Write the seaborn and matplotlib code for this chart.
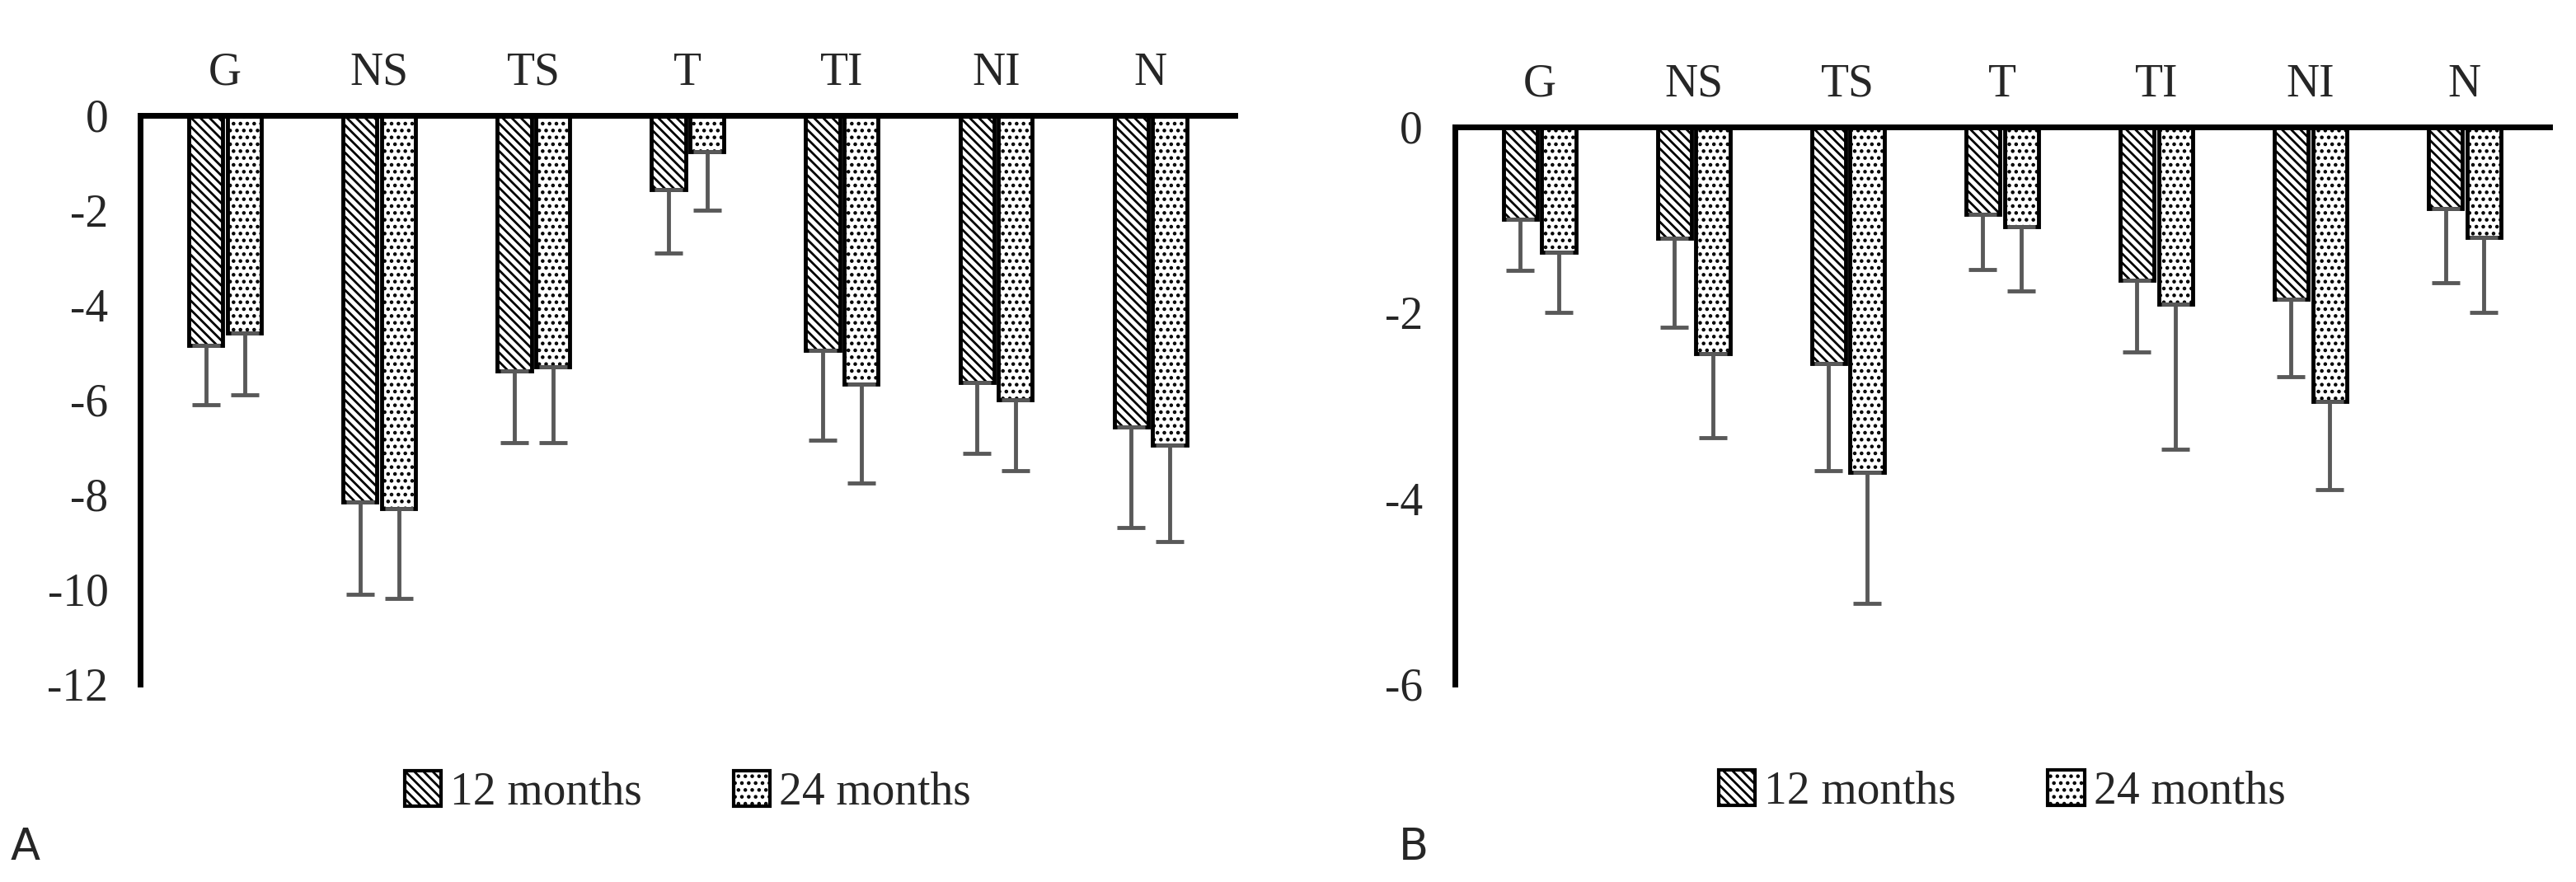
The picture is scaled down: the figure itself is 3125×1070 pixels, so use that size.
import matplotlib
matplotlib.use("Agg")
import matplotlib.pyplot as plt
import seaborn as sns
import pandas as pd
from matplotlib.patches import Patch

categories = ["G", "NS", "TS", "T", "TI", "NI", "N"]
series = ["12 months", "24 months"]
a_12 = [-4.85, -8.15, -5.4, -1.57, -4.95, -5.63, -6.57]
a_24 = [-4.6, -8.3, -5.3, -0.77, -5.67, -6.0, -6.95]
a_12_sd = [1.25, 1.95, 1.5, 1.33, 1.9, 1.5, 2.13]
a_24_sd = [1.3, 1.9, 1.6, 1.23, 2.08, 1.5, 2.05]
b_12 = [-1.0, -1.2, -2.55, -0.94, -1.65, -1.86, -0.88]
b_24 = [-1.35, -2.44, -3.72, -1.08, -1.91, -2.96, -1.19]
b_12_sd = [0.55, 0.96, 1.15, 0.6, 0.77, 0.83, 0.8]
b_24_sd = [0.65, 0.91, 1.41, 0.69, 1.56, 0.95, 0.81]

sns.set_theme(style="white")
plt.rcParams['font.family'] = ['Liberation Serif', 'DejaVu Serif']
plt.rcParams['hatch.linewidth'] = 2.0

fig = plt.figure(figsize=(31.25, 10.7), dpi=100)
axA = fig.add_axes([0.0545, 0.2243, 0.425, 0.645])
axB = fig.add_axes([0.5647, 0.2243, 0.425, 0.632])
hatches = ["\\\\\\", ".."]
FS = 40

def panel(ax, v12, v24, s12, s24, ymin, yticks, letter, lx):
    df = pd.DataFrame({"cat": categories * 2, "ser": [series[0]] * 7 + [series[1]] * 7,
                       "val": v12 + v24})
    sns.barplot(data=df, x="cat", y="val", hue="ser", order=categories, hue_order=series,
                palette=["white", "white"], edgecolor="black", linewidth=3.5,
                width=0.5, gap=0.12, errorbar=None, ax=ax)
    sds = s12 + s24
    vals = v12 + v24
    for i, p in enumerate(ax.patches[:14]):
        p.set_hatch(hatches[i // 7])
        x = p.get_x() + p.get_width() / 2
        ax.errorbar([x], [vals[i]], yerr=[[sds[i]], [0]], fmt="none", ecolor="#595959",
                    elinewidth=3.5, capsize=12, capthick=3.5)
    ax.set_ylim(ymin, 0)
    ax.set_xlim(-0.55, 6.55)
    ax.set_yticks(yticks)
    ax.set_yticklabels([str(t) for t in yticks], fontsize=FS)
    ax.set_xlabel(""); ax.set_ylabel("")
    ax.xaxis.tick_top()
    ax.tick_params(axis="x", length=0, labelsize=FS, pad=18)
    ax.tick_params(axis="y", length=0, pad=28)
    for s in ["right", "bottom"]:
        ax.spines[s].set_visible(False)
    ax.spines["top"].set_position(("data", 0))
    for s in ["top", "left"]:
        ax.spines[s].set_linewidth(5)
        ax.spines[s].set_color("black")
    ax.get_legend().remove()
    handles = [Patch(facecolor="white", edgecolor="black", hatch=hatches[k], linewidth=3) for k in range(2)]
    ax.legend(handles, series, loc="upper center", bbox_to_anchor=(0.5, -0.08), ncol=2,
              frameon=False, fontsize=FS, handlelength=0.8, handleheight=0.8,
              columnspacing=2.0, handletextpad=0.2)
    fig.text(lx, 0.025, letter, fontsize=38, family="DejaVu Sans")

panel(axA, a_12, a_24, a_12_sd, a_24_sd, -12, [0, -2, -4, -6, -8, -10, -12], "A", 0.004)
panel(axB, b_12, b_24, b_12_sd, b_24_sd, -6, [0, -2, -4, -6], "B", 0.543)
fig.savefig("out.png", dpi=100)
